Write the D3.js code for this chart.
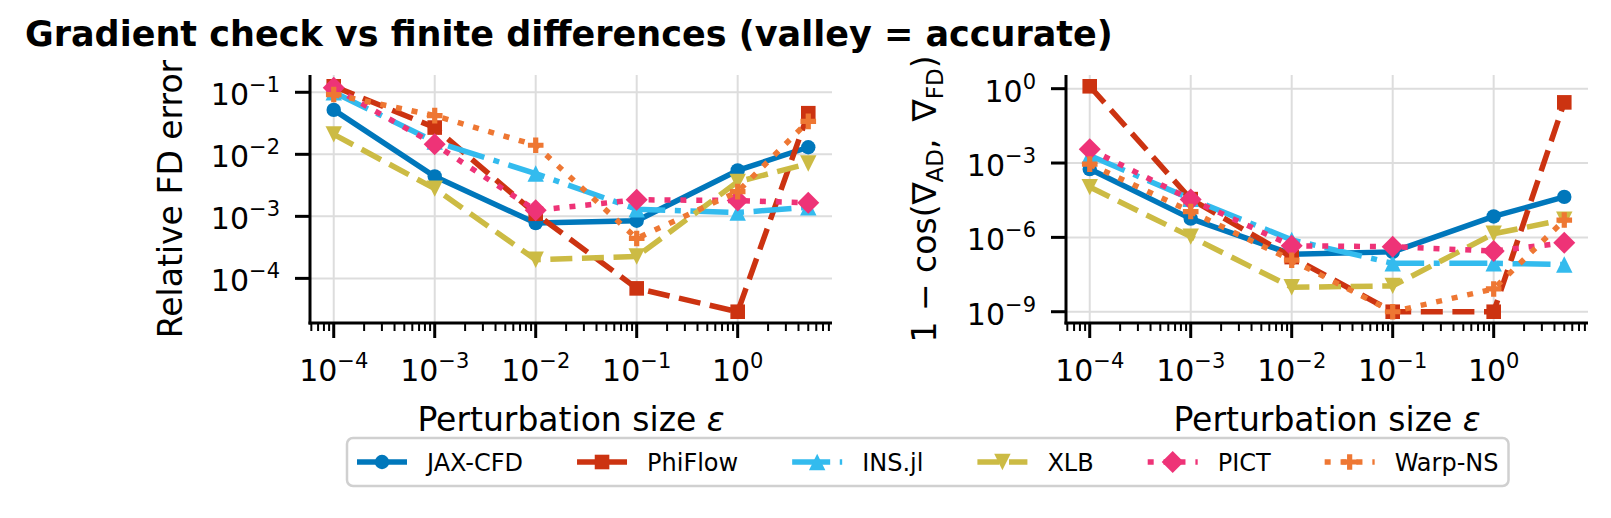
<!DOCTYPE html>
<html>
<head>
<meta charset="utf-8">
<script src="https://cdn.jsdelivr.net/npm/d3@7"></script>
<style>
  body { margin: 0; background: #fff; }
  svg { display: block; }
  text { font-family: "DejaVu Sans", sans-serif; fill: #000; }
</style>
</head>
<body>
<div id="chart"></div>
<script>
// perturbation sizes (x values, shared by both panels)
const eps = [1e-4, 1e-3, 1e-2, 1e-1, 1, 5];
const names = ["JAX-CFD", "PhiFlow", "INS.jl", "XLB", "PICT", "Warp-NS"];

// left panel: relative FD error
const relJax  = [5.2e-2, 4.4e-3, 7.8e-4, 8.5e-4, 5.5e-3, 1.3e-2];
const relPhi  = [1.25e-1, 2.7e-2, 1.1e-3, 6.9e-5, 2.9e-5, 4.6e-2];
const relIns  = [1.0e-1, 1.6e-2, 4.9e-3, 1.3e-3, 1.15e-3, 1.4e-3];
const relXlb  = [2.1e-2, 2.8e-3, 2.0e-4, 2.25e-4, 3.6e-3, 7.1e-3];
const relPict = [1.18e-1, 1.45e-2, 1.25e-3, 1.85e-3, 1.8e-3, 1.65e-3];
const relWarp = [9.2e-2, 4.2e-2, 1.4e-2, 4.4e-4, 2.5e-3, 3.4e-2];

// right panel: 1 - cos(grad_AD, grad_FD)
const cosJax  = [5.7e-4, 5.7e-6, 2.1e-7, 2.6e-7, 7.0e-6, 4.3e-5];
const cosPhi  = [1.25, 3.5e-5, 1.6e-7, 1e-9, 1e-9, 2.8e-1];
const cosIns  = [2.0e-3, 3.6e-5, 7.9e-7, 9.0e-8, 9.0e-8, 8.0e-8];
const cosXlb  = [1.07e-4, 1.07e-6, 9.7e-9, 1.1e-8, 1.4e-6, 5.2e-6];
const cosPict = [3.6e-3, 3.4e-5, 4.6e-7, 4.2e-7, 2.8e-7, 6.0e-7];
const cosWarp = [9.0e-4, 1.1e-5, 1.2e-7, 1e-9, 8.3e-9, 5.0e-6];

const xTicks = [1e-4, 1e-3, 1e-2, 1e-1, 1];
const relTicks = [1e-4, 1e-3, 1e-2, 1e-1];
const cosTicks = [1e-9, 1e-6, 1e-3, 1];

// styling per series
const colors  = ["#0077BB", "#CC3311", "#33BBEE", "#CCBB44", "#EE3377", "#EE7733"];
const dashes  = ["none", "22,9.6", "38,9.6,6,9.6", "22,9.6", "6,9.9", "6,9.9"];
const markers = ["o", "s", "^", "v", "D", "P"];

const relSeries = [relJax, relPhi, relIns, relXlb, relPict, relWarp];
const cosSeries = [cosJax, cosPhi, cosIns, cosXlb, cosPict, cosWarp];

const width = 1611, height = 518;
const lw = 5.5;
const tickFont = 30, labelFont = 33;

const svg = d3.select("#chart").append("svg")
  .attr("width", width)
  .attr("height", height);

function markerPath(type) {
  switch (type) {
    case "o": return d3.symbol(d3.symbolCircle, Math.PI * 7.2 * 7.2)();
    case "s": { const h = 7.3; return `M${-h},${-h}H${h}V${h}H${-h}Z`; }
    case "^": { const h = 8.2; return `M0,${-h}L${h},${h}L${-h},${h}Z`; }
    case "v": { const h = 8.2; return `M0,${h}L${h},${-h}L${-h},${-h}Z`; }
    case "D": { const r = 11; return `M0,${-r}L${r},0L0,${r}L${-r},0Z`; }
    case "P": {
      const a = 2.6;
      const pts = [[-1,-3],[1,-3],[1,-1],[3,-1],[3,1],[1,1],[1,3],[-1,3],[-1,1],[-3,1],[-3,-1],[-1,-1]];
      return "M" + pts.map(p => `${p[0]*a},${p[1]*a}`).join("L") + "Z";
    }
  }
}

// log domain with matplotlib-like 5% margins
function logDomain(vals) {
  const lo = Math.log10(d3.min(vals)), hi = Math.log10(d3.max(vals));
  const m = (hi - lo) * 0.05;
  return [Math.pow(10, lo - m), Math.pow(10, hi + m)];
}

// write 10^k as "10" + superscript
function powLabel(sel, v, size) {
  const k = Math.round(Math.log10(v));
  sel.append("tspan").text("10");
  sel.append("tspan")
    .attr("dy", -13)
    .style("font-size", (size * 0.7) + "px")
    .text(String(k).replace("-", "\u2212"));
}

function drawPanel(left, right, series, yTicks) {
  const top = 75, bottom = 323;
  const x = d3.scaleLog().domain(logDomain(eps)).range([left, right]);
  const y = d3.scaleLog().domain(logDomain(series.flat())).range([bottom, top]);
  const g = svg.append("g");

  // grid
  g.selectAll(".gx").data(xTicks).join("line")
    .attr("x1", d => x(d)).attr("x2", d => x(d))
    .attr("y1", top).attr("y2", bottom)
    .attr("stroke", "#dddddd").attr("stroke-width", 2);
  g.selectAll(".gy").data(yTicks).join("line")
    .attr("x1", left).attr("x2", right)
    .attr("y1", d => y(d)).attr("y2", d => y(d))
    .attr("stroke", "#dddddd").attr("stroke-width", 2);

  // lines + markers
  const line = d3.line().x((d, i) => x(eps[i])).y(d => y(d));
  series.forEach((vals, si) => {
    g.append("path")
      .attr("d", line(vals))
      .attr("fill", "none")
      .attr("stroke", colors[si])
      .attr("stroke-width", lw)
      .attr("stroke-dasharray", dashes[si])
      .attr("stroke-linejoin", "round");
    g.selectAll(null).data(vals).join("path")
      .attr("transform", (d, i) => `translate(${x(eps[i])},${y(d)})`)
      .attr("d", markerPath(markers[si]))
      .attr("fill", colors[si]);
  });

  // minor x ticks
  const minor = [];
  const [d0, d1] = x.domain();
  for (let k = -6; k <= 2; k++) {
    for (let m = 2; m <= 9; m++) {
      const v = m * Math.pow(10, k);
      if (v >= d0 && v <= d1) minor.push(v);
    }
  }
  g.selectAll(".mx").data(minor).join("line")
    .attr("x1", d => x(d)).attr("x2", d => x(d))
    .attr("y1", bottom).attr("y2", bottom + 8)
    .attr("stroke", "#000").attr("stroke-width", 2);

  // major x ticks
  g.selectAll(".tx").data(xTicks).join("line")
    .attr("x1", d => x(d)).attr("x2", d => x(d))
    .attr("y1", bottom).attr("y2", bottom + 15)
    .attr("stroke", "#000").attr("stroke-width", 3);
  g.selectAll(".lx").data(xTicks).join("text")
    .attr("x", d => x(d))
    .attr("y", 381)
    .attr("text-anchor", "middle")
    .style("font-size", tickFont + "px")
    .each(function(d) { powLabel(d3.select(this), d, tickFont); });

  // y ticks
  g.selectAll(".ty").data(yTicks).join("line")
    .attr("x1", left - 15).attr("x2", left)
    .attr("y1", d => y(d)).attr("y2", d => y(d))
    .attr("stroke", "#000").attr("stroke-width", 3);
  g.selectAll(".ly").data(yTicks).join("text")
    .attr("x", left - 30)
    .attr("y", d => y(d) + 13)
    .attr("text-anchor", "end")
    .style("font-size", tickFont + "px")
    .each(function(d) { powLabel(d3.select(this), d, tickFont); });

  // spines (left and bottom only)
  g.append("line")
    .attr("x1", left).attr("x2", left).attr("y1", top).attr("y2", bottom + 1.5)
    .attr("stroke", "#000").attr("stroke-width", 3);
  g.append("line")
    .attr("x1", left - 1.5).attr("x2", right).attr("y1", bottom).attr("y2", bottom)
    .attr("stroke", "#000").attr("stroke-width", 3);

  // x label
  const xl = g.append("text")
    .attr("x", (left + right) / 2)
    .attr("y", 431)
    .attr("text-anchor", "middle")
    .style("font-size", labelFont + "px");
  xl.append("tspan").text("Perturbation size ");
  xl.append("tspan").style("font-style", "italic").text("\u03B5");

  return g;
}

drawPanel(310, 832, relSeries, relTicks);
drawPanel(1066, 1588, cosSeries, cosTicks);

// y labels
svg.append("text")
  .attr("transform", "translate(182,199) rotate(-90)")
  .attr("text-anchor", "middle")
  .style("font-size", labelFont + "px")
  .text("Relative FD error");

const yl = svg.append("text")
  .attr("transform", "translate(936,199) rotate(-90)")
  .attr("text-anchor", "middle")
  .style("font-size", labelFont + "px");
yl.append("tspan").text("1 \u2212 cos(\u2207");
yl.append("tspan").attr("dy", 7).style("font-size", "23px").text("AD");
yl.append("tspan").attr("dy", -7).text(",\u00A0\u2009\u2207");
yl.append("tspan").attr("dy", 7).style("font-size", "23px").text("FD");
yl.append("tspan").attr("dy", -7).text(")");

// title
svg.append("text")
  .attr("x", 25)
  .attr("y", 46)
  .style("font-size", "35px")
  .style("font-weight", "bold")
  .text("Gradient check vs finite differences (valley = accurate)");

// legend
const legendFont = 24, handleLen = 50, handlePad = 20, colSpace = 54, borderPad = 10;
const legY = 462;
const legend = svg.append("g");
const frame = legend.append("rect");
let cx = 347 + borderPad;
names.forEach((name, i) => {
  const item = legend.append("g");
  item.append("line")
    .attr("x1", cx).attr("x2", cx + handleLen)
    .attr("y1", legY).attr("y2", legY)
    .attr("stroke", colors[i])
    .attr("stroke-width", lw)
    .attr("stroke-dasharray", dashes[i]);
  item.append("path")
    .attr("transform", `translate(${cx + handleLen / 2},${legY})`)
    .attr("d", markerPath(markers[i]))
    .attr("fill", colors[i]);
  const t = item.append("text")
    .attr("x", cx + handleLen + handlePad)
    .attr("y", legY + 9)
    .style("font-size", legendFont + "px")
    .text(name);
  cx += handleLen + handlePad + t.node().getComputedTextLength() + colSpace;
});
const legRight = cx - colSpace + borderPad;
frame
  .attr("x", 347).attr("y", legY - 24)
  .attr("width", legRight - 347).attr("height", 48)
  .attr("rx", 6)
  .attr("fill", "#fff").attr("fill-opacity", 0.8)
  .attr("stroke", "#d0d0d0").attr("stroke-width", 2.5);
</script>
</body>
</html>
